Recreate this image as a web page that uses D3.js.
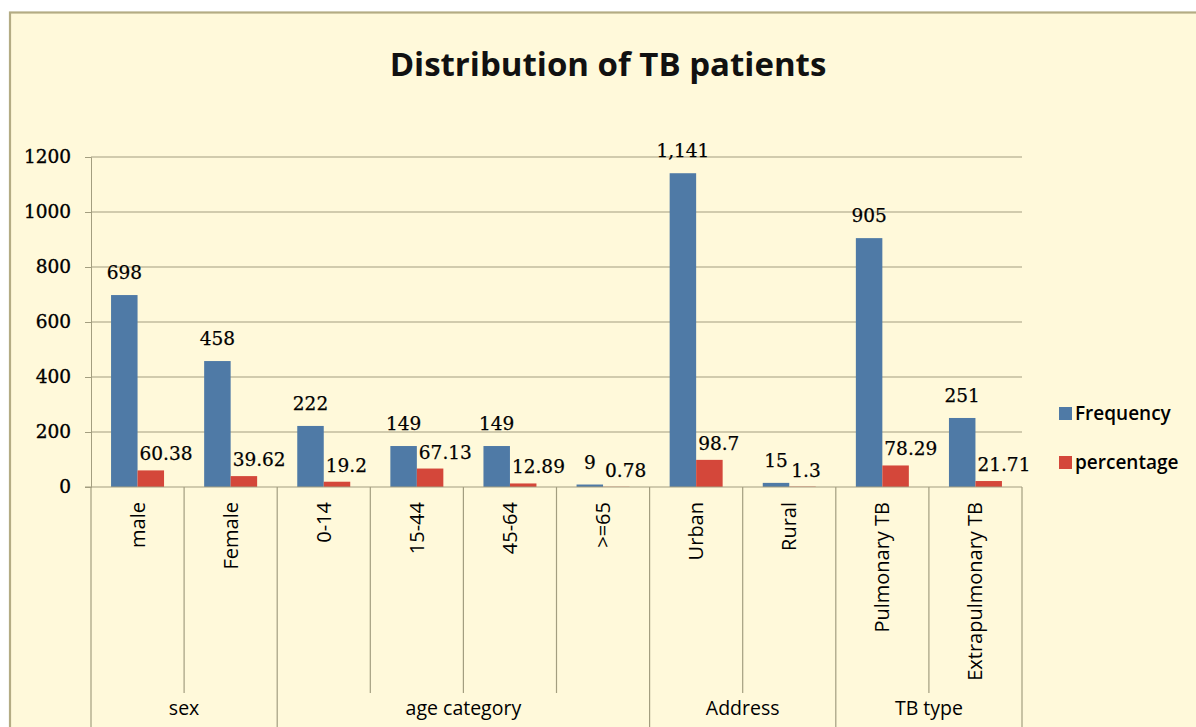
<!DOCTYPE html>
<html><head><meta charset="utf-8">
<script src="https://cdn.jsdelivr.net/npm/d3@7"></script>
<style>body{margin:0;background:#fff;}svg{display:block;}</style>
</head><body>
<svg id="chart" width="1196" height="727"></svg>
<script>
(function(){
const title = "Distribution of TB patients";
const categories = ["male","Female","0-14","15-44","45-64",">=65","Urban","Rural","Pulmonary TB","Extrapulmonary TB"];
const groups = ["sex","age category","Address","TB type"];
const groupSizes = [2,4,2,2];
const frequency = [698,458,222,149,149,9,1141,15,905,251];
const percentage = [60.38,39.62,19.2,67.13,12.89,0.78,98.7,1.3,78.29,21.71];
const seriesNames = ["Frequency","percentage"];
const yTicks = [0,200,400,600,800,1000,1200];

const colors = {Frequency:"#4F7AA6", percentage:"#D4473A"};
const svg = d3.select("#chart");
const cream = "#FFF9DA";
const gridC = "#A39E80";
const numFont = "'DejaVu Serif', serif";
const sansFont = "'Open Sans', sans-serif";

svg.append("rect").attr("x",10).attr("y",12.5).attr("width",1200).attr("height",730)
  .attr("fill",cream).attr("stroke","#B4AC84").attr("stroke-width",2.2);

svg.append("text").attr("x",608).attr("y",76).attr("text-anchor","middle")
  .attr("font-family",sansFont).attr("font-weight",700).attr("font-size",33)
  .attr("fill","#111").text(title);

const pLeft=91, pRight=1022, pTop=157, base=487;
const y = d3.scaleLinear().domain([0,1200]).range([base,pTop]);
const x = d3.scaleBand().domain(categories).range([pLeft,pRight]).padding(0);
const xs = d3.scaleBand().domain(seriesNames).range([0,x.bandwidth()]).paddingInner(0).paddingOuter(0.757);

const yAxis = d3.axisLeft(y).tickValues(yTicks).tickSize(6).tickPadding(14).tickFormat(d3.format("d"));
const gy = svg.append("g").attr("transform",`translate(${pLeft},0)`).call(yAxis);
gy.select(".domain").attr("stroke",gridC);
gy.selectAll(".tick line").attr("stroke",gridC);
gy.selectAll(".tick text").attr("font-family",numFont).attr("font-size",18.5).attr("fill","#000")
  .attr("stroke","#000").attr("stroke-width",0.35);
svg.append("g").selectAll("line").data(yTicks.filter(d=>d>0)).join("line")
  .attr("x1",pLeft).attr("x2",pRight).attr("y1",d=>y(d)).attr("y2",d=>y(d))
  .attr("stroke",gridC).attr("stroke-width",1.2);

const data = categories.map((c,i)=>({cat:c, vals:[{s:"Frequency",v:frequency[i]},{s:"percentage",v:percentage[i]}]}));
const gBars = svg.append("g");
data.forEach(d=>{
  d.vals.forEach(e=>{
    gBars.append("rect").attr("x",x(d.cat)+xs(e.s)).attr("width",xs.bandwidth())
      .attr("y",y(e.v)).attr("height",base-y(e.v)).attr("fill",colors[e.s]);
  });
  const f=d.vals[0], p=d.vals[1];
  gBars.append("text").attr("x",x(d.cat)+xs(f.s)+xs.bandwidth()/2).attr("y",y(f.v)-16)
    .attr("text-anchor","middle").attr("font-family",numFont).attr("font-size",18.5).attr("fill","#000")
    .attr("stroke","#000").attr("stroke-width",0.25)
    .text(d3.format(",")(f.v));
  gBars.append("text").attr("x",x(d.cat)+xs(p.s)+2).attr("y",y(p.v)-10)
    .attr("text-anchor","start").attr("font-family",numFont).attr("font-size",18.5).attr("fill","#000")
    .attr("stroke","#000").attr("stroke-width",0.25)
    .text(p.v);
});

svg.append("line").attr("x1",pLeft-6).attr("x2",pRight).attr("y1",base).attr("y2",base).attr("stroke",gridC).attr("stroke-width",1.2);
let idx=0; const groupBounds=[];
groupSizes.forEach(n=>{groupBounds.push([idx, idx+n]); idx+=n;});
const groupStarts = new Set(groupBounds.map(b=>b[0]));
categories.forEach((c,i)=>{
  const xx = x(c);
  const isGroup = groupStarts.has(i);
  svg.append("line").attr("x1",xx).attr("x2",xx).attr("y1",base).attr("y2",isGroup?727:693)
    .attr("stroke",gridC).attr("stroke-width",1.2);
});
svg.append("line").attr("x1",pRight).attr("x2",pRight).attr("y1",base).attr("y2",727).attr("stroke",gridC).attr("stroke-width",1.2);

categories.forEach(c=>{
  const cx = x(c)+x.bandwidth()/2;
  svg.append("text").attr("transform",`translate(${cx+7},502) rotate(-90)`)
    .attr("text-anchor","end").attr("font-family",sansFont).attr("font-size",20).attr("fill","#000").text(c);
});
groupBounds.forEach((b,gi)=>{
  const x0 = x(categories[b[0]]), x1 = x(categories[b[1]-1])+x.bandwidth();
  svg.append("text").attr("x",(x0+x1)/2).attr("y",715).attr("text-anchor","middle")
    .attr("font-family",sansFont).attr("font-size",19.5).attr("fill","#000").text(groups[gi]);
});

const lg = svg.append("g");
seriesNames.forEach((s,i)=>{
  const yy = 407 + i*49;
  lg.append("rect").attr("x",1059).attr("y",yy).attr("width",13).attr("height",13).attr("fill",colors[s]);
  lg.append("text").attr("x",1075).attr("y",yy+12.5).attr("font-family",sansFont).attr("font-weight",600)
    .attr("font-size",19).attr("fill","#000").text(s);
});
})();
</script>
</body></html>
